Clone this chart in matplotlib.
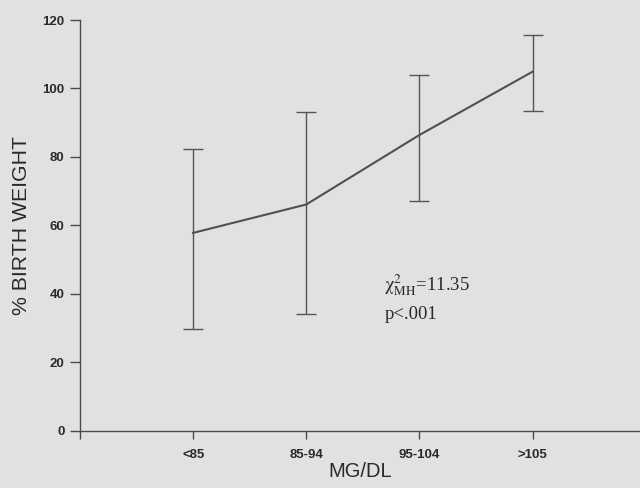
import matplotlib.pyplot as plt
import numpy as np

plt.rcParams['font.family'] = ['Liberation Sans', 'DejaVu Sans']
plt.rcParams['mathtext.fontset'] = 'stix'

# values
groups = ['<85', '85-94', '95-104', '>105']
mean_bw = [57.8, 66.1, 86.4, 104.9]
low_bw = [29.6, 34.1, 67.1, 93.5]
high_bw = [82.3, 93.2, 103.8, 115.5]

bg = '#e1e1df'
ink = '#4a4a4a'
txt = '#2a2a2a'

fig = plt.figure(figsize=(6.4, 4.88), dpi=100, facecolor=bg)
ax = fig.add_axes([0.125, 0.1174, 0.875, 0.8416], facecolor=bg)

x = np.arange(1, len(groups) + 1)
m = np.array(mean_bw)
yerr = [m - np.array(low_bw), np.array(high_bw) - m]
ax.plot(x, m, color='#505050', lw=1.5, zorder=3)
ax.errorbar(x, m, yerr=yerr, fmt='none', ecolor='#555555', elinewidth=1.0,
            capsize=7.5, capthick=1.0)

ax.set_xlim(0, 4.95)
ax.set_ylim(0, 120)
ax.set_xticks([0] + list(x))
ax.set_xticklabels([''] + groups)
ax.set_yticks(range(0, 121, 20))

for s in ['top', 'right']:
    ax.spines[s].set_visible(False)
for s in ['left', 'bottom']:
    ax.spines[s].set_color(ink)
    ax.spines[s].set_linewidth(1.0)
ax.tick_params(axis='x', direction='out', length=6, width=1.0, color=ink,
               labelsize=9.5, labelcolor=txt, pad=7)
ax.tick_params(axis='y', direction='out', length=7, width=1.0, color=ink,
               labelsize=9.5, labelcolor=txt, pad=4)
for lab in ax.get_xticklabels() + ax.get_yticklabels():
    lab.set_fontweight('bold')

ax.set_xlabel('MG/DL', fontsize=14.5, color=txt, labelpad=1)
ax.set_ylabel('% BIRTH WEIGHT', fontsize=15.3, color=txt, labelpad=8)

ax.text(2.69, 40.8, r'$\mathrm{χ}^{2}_{\mathrm{MH}}$=11.35', fontsize=13.5,
        family='Liberation Serif', color=txt)
ax.text(2.69, 32.6, 'p<.001', fontsize=13.5, family='Liberation Serif',
        color=txt)

fig.savefig('out.png', dpi=100, facecolor=bg)
